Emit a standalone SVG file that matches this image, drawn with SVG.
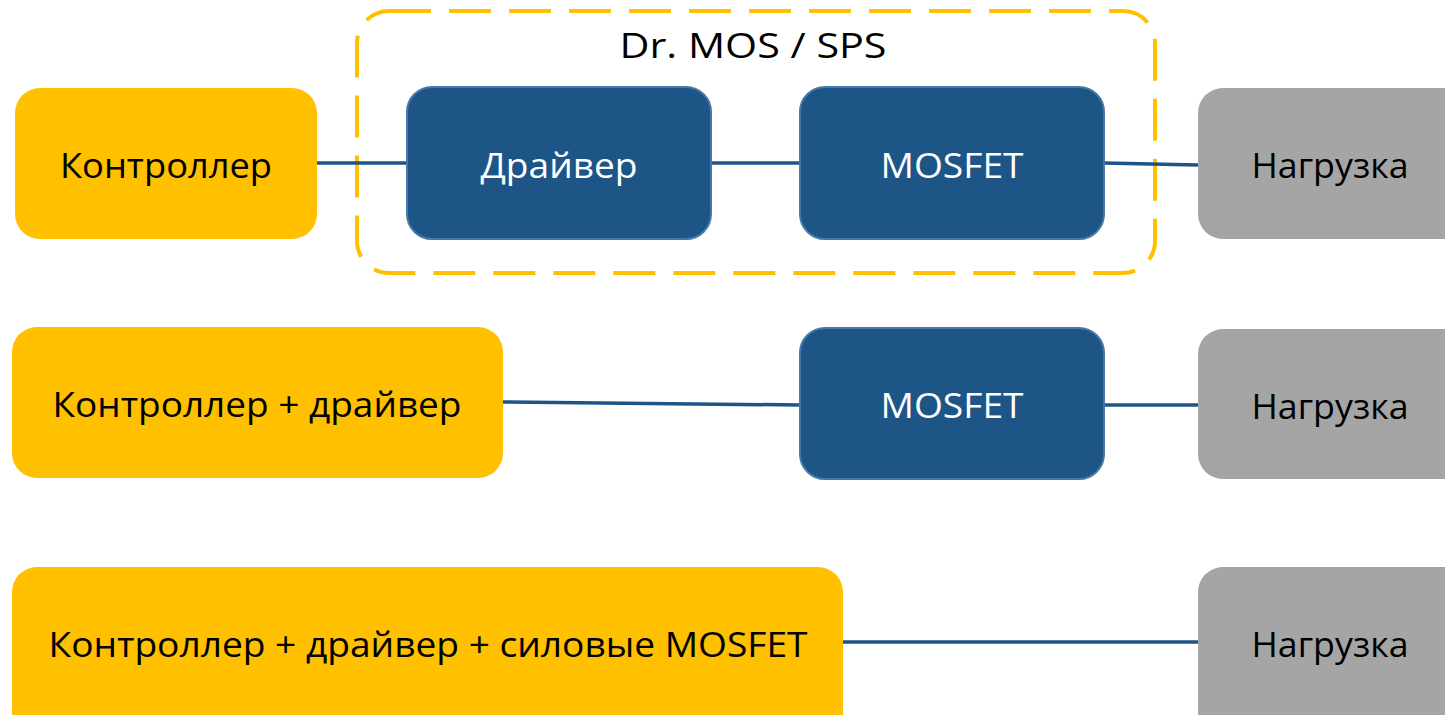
<svg xmlns="http://www.w3.org/2000/svg" width="1445" height="715" viewBox="0 0 1445 715">
<style>
.y{fill:#FFC000}
.b{fill:#1D5586;stroke:#4A78A6;stroke-width:2}
.g{fill:#A5A5A5}
.t{font-family:"Open Sans","Noto Sans",sans-serif;font-size:35px;text-anchor:middle}
.k{fill:#000}
.w{fill:#fff}
.c{stroke:#1F5487;stroke-width:3.5;fill:none}
</style>
<rect width="1445" height="715" fill="#fff"/>
<g id="group-drmos">
<rect x="357" y="11" width="798" height="262" rx="32" fill="none" stroke="#FFC000" stroke-width="4" stroke-dasharray="42 18"/>
<text class="t k" x="753" y="58" textLength="267" lengthAdjust="spacingAndGlyphs">Dr. MOS / SPS</text>
</g>
<g id="connectors">
<line class="c" x1="317" y1="163" x2="407" y2="163"/>
<line class="c" x1="711" y1="163" x2="800" y2="163"/>
<line class="c" x1="1104" y1="163" x2="1198" y2="165"/>
<line class="c" x1="503" y1="402" x2="800" y2="405"/>
<line class="c" x1="1104" y1="405" x2="1198" y2="405"/>
<line class="c" x1="843" y1="642" x2="1198" y2="642"/>
</g>
<g id="ctrl1">
<rect class="y" x="15" y="88" width="302" height="151" rx="25"/>
<text class="t k" x="166" y="178" textLength="212" lengthAdjust="spacingAndGlyphs">Контроллер</text>
</g>
<g id="driver1">
<rect class="b" x="407" y="87" width="304" height="152" rx="25"/>
<text class="t w" x="559" y="178" textLength="157" lengthAdjust="spacingAndGlyphs">Драйвер</text>
</g>
<g id="mosfet1">
<rect class="b" x="800" y="87" width="304" height="152" rx="25"/>
<text class="t w" x="952" y="178" textLength="143" lengthAdjust="spacingAndGlyphs">MOSFET</text>
</g>
<g id="load1">
<rect class="g" x="1198" y="88" width="280" height="151" rx="25"/>
<text class="t k" x="1330" y="178" textLength="157" lengthAdjust="spacingAndGlyphs">Нагрузка</text>
</g>
<g id="ctrl2">
<rect class="y" x="12" y="327" width="491" height="151" rx="25"/>
<text class="t k" x="257" y="417" textLength="409" lengthAdjust="spacingAndGlyphs">Контроллер + драйвер</text>
</g>
<g id="mosfet2">
<rect class="b" x="800" y="328" width="304" height="151" rx="25"/>
<text class="t w" x="952" y="418" textLength="143" lengthAdjust="spacingAndGlyphs">MOSFET</text>
</g>
<g id="load2">
<rect class="g" x="1198" y="329" width="280" height="150" rx="25"/>
<text class="t k" x="1330" y="419" textLength="157" lengthAdjust="spacingAndGlyphs">Нагрузка</text>
</g>
<g id="ctrl3">
<rect class="y" x="12" y="567" width="831" height="170" rx="25"/>
<text class="t k" x="428" y="657" textLength="759" lengthAdjust="spacingAndGlyphs">Контроллер + драйвер + силовые MOSFET</text>
</g>
<g id="load3">
<rect class="g" x="1198" y="567" width="280" height="170" rx="25"/>
<text class="t k" x="1330" y="657" textLength="157" lengthAdjust="spacingAndGlyphs">Нагрузка</text>
</g>
</svg>
